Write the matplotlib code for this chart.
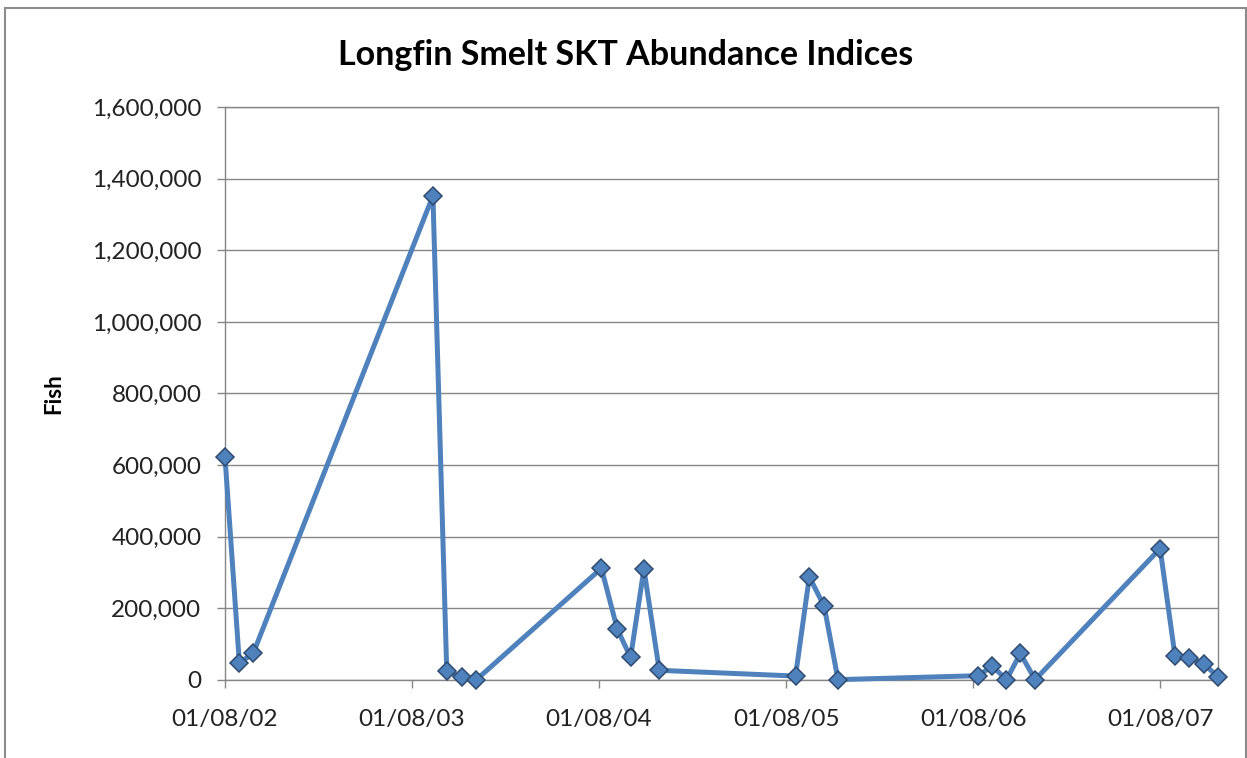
import matplotlib
matplotlib.use("Agg")
import matplotlib.pyplot as plt
import matplotlib.dates as mdates
from matplotlib.patches import Rectangle
from matplotlib.ticker import FuncFormatter, MultipleLocator
import numpy as np

survey_dates = [
    "2002-01-08", "2002-02-05", "2002-03-04",
    "2003-02-18", "2003-03-17", "2003-04-16", "2003-05-14",
    "2004-01-13", "2004-02-13", "2004-03-10", "2004-04-05", "2004-05-05",
    "2005-01-26", "2005-02-22", "2005-03-23", "2005-04-19",
    "2006-01-18", "2006-02-14", "2006-03-14", "2006-04-10", "2006-05-09",
    "2007-01-08", "2007-02-06", "2007-03-06", "2007-04-03", "2007-05-01",
]
abundance = [
    623000, 48000, 74000,
    1352000, 24000, 8000, 1000,
    312000, 142000, 63000, 310000, 27000,
    11000, 288000, 206000, 1000,
    12000, 39000, 1000, 74000, 1000,
    367000, 67000, 62000, 45000, 9000,
]
tick_dates = ["2002-01-08", "2003-01-08", "2004-01-08", "2005-01-08", "2006-01-08", "2007-01-08"]

title = "Longfin Smelt SKT Abundance Indices"
ylabel = "Fish"

W, H = 1247, 758
fig = plt.figure(figsize=(W / 100, H / 100), dpi=100)
plt.rcParams['font.family'] = ['Lato', 'DejaVu Sans']

left, right, top, bottom = 225, 1218, 107, 680
ax = fig.add_axes([left / W, (H - bottom) / H, (right - left) / W, (bottom - top) / H])

x = np.array(survey_dates, dtype="datetime64[D]")
ax.plot(x, abundance, color="#4F81BD", lw=3.6, marker="D", ms=9.5,
        mfc="#4F81BD", mec="#2E4B70", mew=1.1, zorder=3, clip_on=False)

ax.set_xlim(x[0], x[-1])
ax.set_ylim(0, 1600000)
ax.yaxis.set_major_locator(MultipleLocator(200000))
ax.yaxis.set_major_formatter(FuncFormatter(lambda v, p: f"{int(v):,}"))
ax.set_xticks(np.array(tick_dates, dtype="datetime64[D]"))
ax.xaxis.set_major_formatter(mdates.DateFormatter("%m/%d/%y"))

gc = "#868686"
ax.grid(axis="y", color=gc, lw=1.0)
ax.set_axisbelow(True)
for s in ax.spines.values():
    s.set_color(gc)
    s.set_linewidth(1.0)
ax.tick_params(axis="both", color=gc, length=6, width=1.0, labelsize=17.5, labelcolor="#222222")
ax.tick_params(axis="y", pad=11)
ax.tick_params(axis="x", pad=15)

ax.set_ylabel(ylabel, fontsize=16, fontweight="bold")
ax.yaxis.set_label_coords(-(left - 64) / (right - left), 0.5)

fig.text(626 / W, 1 - 55 / H, title, ha="center", va="center", fontsize=24.5, fontweight="bold")

fig.patches.append(Rectangle((5 / W, -0.05), (1246 - 5) / W, (H - 8) / H + 0.05,
                             transform=fig.transFigure, fill=False, edgecolor="#8C8C8C", lw=1.5))

fig.savefig("out.png", dpi=100)
